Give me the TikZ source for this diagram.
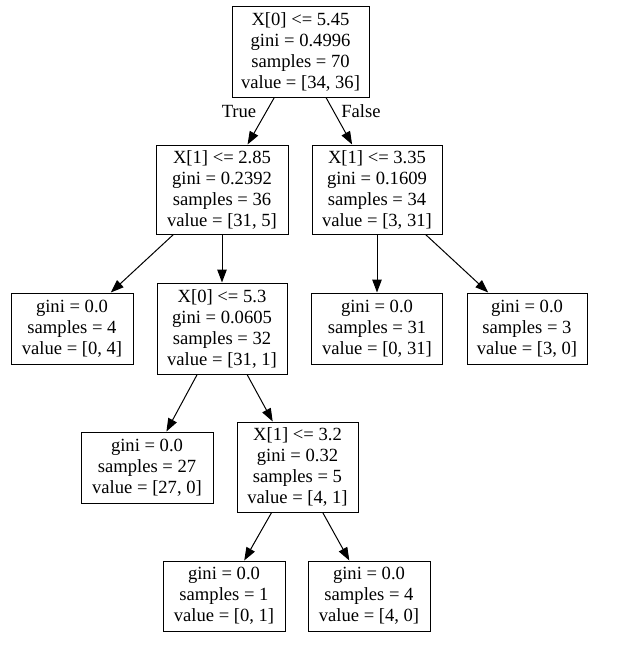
\documentclass[tikz,border=0pt]{standalone}
\usepackage{fontspec}
\setmainfont{Liberation Serif}
\usetikzlibrary{arrows.meta}
\begin{document}
\begin{tikzpicture}[x=1pt,y=-1pt,
  treenode/.style={draw=black, line width=1pt, rectangle, inner sep=0pt, align=center,
    font=\fontsize{18.6}{21}\selectfont},
  edge/.style={line width=1pt, -{Triangle[length=13pt,width=9.5pt]}},
  elabel/.style={font=\fontsize{18.6}{21}\selectfont, inner sep=0pt}]
\useasboundingbox[fill=white] (0,0) rectangle (636,653);
\node[treenode, minimum width=137pt, minimum height=91pt] (root) at (300.5,51.5) {X[0] <= 5.45\\gini = 0.4996\\samples = 70\\value = [34, 36]};
\node[treenode, minimum width=132pt, minimum height=89pt] (n1) at (222,189.5) {X[1] <= 2.85\\gini = 0.2392\\samples = 36\\value = [31, 5]};
\node[treenode, minimum width=130pt, minimum height=89pt] (n2) at (377,189.5) {X[1] <= 3.35\\gini = 0.1609\\samples = 34\\value = [3, 31]};
\node[treenode, minimum width=122pt, minimum height=71pt] (n3) at (72,328.5) {gini = 0.0\\samples = 4\\value = [0, 4]};
\node[treenode, minimum width=130pt, minimum height=91pt] (n4) at (222,328.5) {X[0] <= 5.3\\gini = 0.0605\\samples = 32\\value = [31, 1]};
\node[treenode, minimum width=131pt, minimum height=71pt] (n5) at (377,328.5) {gini = 0.0\\samples = 31\\value = [0, 31]};
\node[treenode, minimum width=120pt, minimum height=71pt] (n6) at (527,328.5) {gini = 0.0\\samples = 3\\value = [3, 0]};
\node[treenode, minimum width=132pt, minimum height=71pt] (n7) at (147,467.5) {gini = 0.0\\samples = 27\\value = [27, 0]};
\node[treenode, minimum width=121pt, minimum height=90pt] (n8) at (297.5,467) {X[1] <= 3.2\\gini = 0.32\\samples = 5\\value = [4, 1]};
\node[treenode, minimum width=122pt, minimum height=70pt] (n9) at (224,596) {gini = 0.0\\samples = 1\\value = [0, 1]};
\node[treenode, minimum width=122pt, minimum height=70pt] (n10) at (369,596) {gini = 0.0\\samples = 4\\value = [4, 0]};
\draw[edge] (root) -- (n1);
\draw[edge] (root) -- (n2);
\draw[edge] (n1) -- (n3);
\draw[edge] (n1) -- (n4);
\draw[edge] (n2) -- (n5);
\draw[edge] (n2) -- (n6);
\draw[edge] (n4) -- (n7);
\draw[edge] (n4) -- (n8);
\draw[edge] (n8) -- (n9);
\draw[edge] (n8) -- (n10);
\node[elabel] (ltrue) at (239,111) {True};
\node[elabel] (lfalse) at (361,111) {False};
\end{tikzpicture}
\end{document}
